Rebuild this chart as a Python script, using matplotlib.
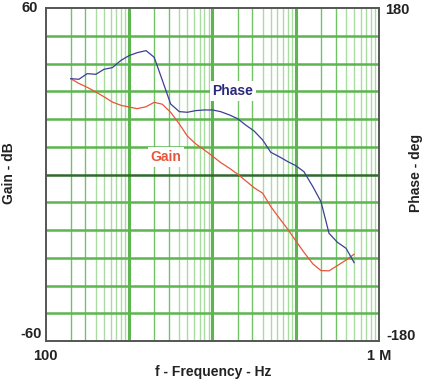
import numpy as np
import matplotlib
matplotlib.use("Agg")
import matplotlib.pyplot as plt

freq = [200, 250, 315, 400, 500, 630, 800, 1000, 1250, 1600, 2000, 2500, 3150, 4000,
        5000, 6300, 8000, 10000, 12500, 16000, 20000, 25000, 31500, 40000, 50000,
        63000, 80000, 100000, 125000, 160000, 200000, 250000, 315000, 400000, 500000]
phase = [103.9, 103.2, 109.3, 108.6, 114.0, 115.8, 123.7, 128.8, 132.0, 134.2, 127.0,
         102.4, 76.5, 68.2, 67.5, 69.3, 70.0, 70.0, 68.2, 64.6, 60.6, 53.7, 47.3, 37.5,
         24.2, 19.5, 14.1, 9.7, 3.2, -13.0, -29.2, -63.5, -73.2, -79.7, -95.2]
gain = [34.6, 32.9, 31.5, 29.8, 28.1, 26.2, 25.0, 24.4, 23.8, 24.5, 26.1, 25.4, 22.5,
        18.3, 13.9, 11.1, 8.9, 6.7, 4.4, 2.3, 0.2, -2.2, -4.7, -6.7, -11.5, -15.6, -19.7,
        -23.9, -28.0, -32.2, -34.6, -34.7, -32.8, -30.8, -28.7]

gain_ticks = [-60, 60]
phase_ticks = [-180, 180]
x_ticks = [100, 1e6]
x_tick_labels = ["100", "1 M"]

plt.rcParams['font.family'] = ['Liberation Sans', 'DejaVu Sans']
fig = plt.figure(figsize=(4.29, 3.83), dpi=100)
ax = fig.add_axes([0.1065, 0.1097, 0.7775, 0.8686])
ax.set_xscale('log')
ax.set_xlim(100, 1e6)
ax.set_ylim(-60, 60)

# grid
for dec in [100, 1000, 10000, 100000]:
    for m in range(2, 10):
        f = dec * m
        if m in (2, 3):
            ax.axvline(f, color='#72c266', lw=1.0, zorder=1)
        else:
            ax.axvline(f, color='#a9dca0', lw=1.0, zorder=1)
for f in [1000, 10000, 100000]:
    ax.axvline(f, color='#5cb54f', lw=2.2, zorder=1)
for g in range(-50, 60, 10):
    if g == 0:
        ax.axhline(g, color='#2f6a2c', lw=1.8, zorder=1)
    else:
        ax.axhline(g, color='#5cb54f', lw=1.8, zorder=1)

ax2 = ax.twinx()
ax2.set_ylim(-180, 180)

ax.plot(freq, gain, color='#e8553a', lw=0.9, zorder=3)
ax2.plot(freq, phase, color='#3c3f96', lw=0.9, zorder=3)

for a in (ax, ax2):
    a.tick_params(which='both', length=0)
    a.set_xticks([]); a.set_xticks([], minor=True)
    a.set_yticks([])
    for s in a.spines.values():
        s.set_color('#555555'); s.set_linewidth(1.2)

tk = dict(fontsize=10.5, fontweight='bold', color='#222222')
ax.text(-0.023, 1.0, str(gain_ticks[1]), transform=ax.transAxes, ha='right', va='center', **tk)
ax.text(-0.011, 0.021, str(gain_ticks[0]), transform=ax.transAxes, ha='right', va='center', **tk)
ax.text(1.017, 0.995, str(phase_ticks[1]), transform=ax.transAxes, ha='left', va='center', **tk)
ax.text(1.02, 0.015, str(phase_ticks[0]), transform=ax.transAxes, ha='left', va='center', **tk)
for xv, lab in zip(x_ticks, x_tick_labels):
    ax.text(xv, -0.024, lab, transform=ax.get_xaxis_transform(), ha='center', va='top', **tk)

fig.text(0.497, 0.028, "f - Frequency - Hz", ha='center', va='center',
         fontsize=10, fontweight='bold', color='#222222')
fig.text(0.02, 0.548, "Gain - dB", rotation=90, ha='center', va='center',
         fontsize=10, fontweight='bold', color='#222222')
fig.text(0.97, 0.548, "Phase - deg", rotation=90, ha='center', va='center',
         fontsize=10, fontweight='bold', color='#222222')

ax2.text(0.561, 0.751, "Phase", transform=ax.transAxes, ha='center', va='center',
         fontsize=10, fontweight='bold', color='#2b2a7a', zorder=5,
         bbox=dict(facecolor='white', edgecolor='none', pad=2))
ax2.text(0.36, 0.553, "Gain", transform=ax.transAxes, ha='center', va='center',
         fontsize=10, fontweight='bold', color='#e8553a', zorder=5,
         bbox=dict(facecolor='white', edgecolor='none', pad=2))

fig.savefig("out.png", dpi=100)
